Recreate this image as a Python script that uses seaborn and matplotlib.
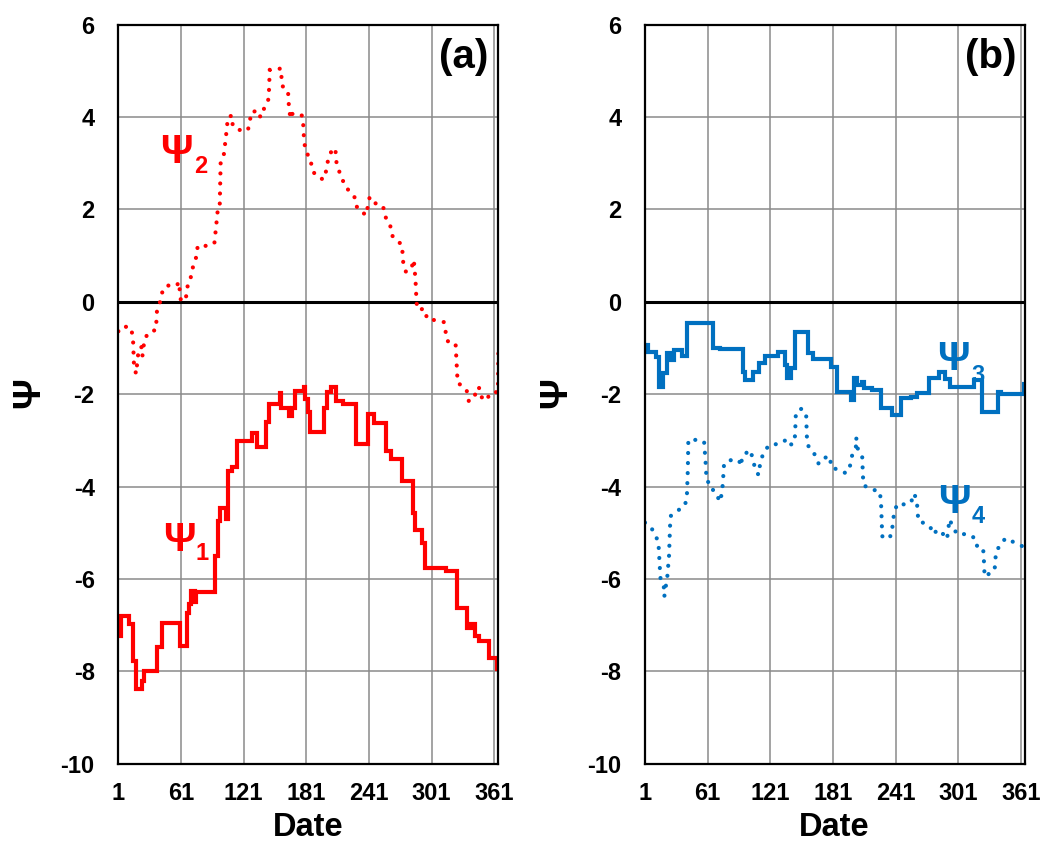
import numpy as np
import pandas as pd
import matplotlib
matplotlib.use("Agg")
import matplotlib.pyplot as plt
import seaborn as sns

# ---------------- data ----------------
# psi1 / psi3: step series (day the level starts, level)
psi1_day = [1, 4, 11, 15, 18, 24, 26, 38, 43, 60, 67, 69, 71, 74, 75, 94, 96, 98, 104, 106,
            110, 115, 129, 134, 142, 145, 156, 157, 164, 167, 170, 179, 180, 183, 185, 198,
            201, 205, 209, 216, 229, 240, 246, 257, 262, 273, 283, 285, 292, 295, 315, 325,
            335, 339, 343, 346, 356, 364, 365]
psi1_val = [-7.24, -6.81, -6.98, -7.78, -8.38, -8.2, -8.0, -7.48, -6.95, -7.46, -6.74, -6.55,
            -6.27, -6.5, -6.29, -5.5, -4.75, -4.46, -4.7, -3.66, -3.57, -3.01, -2.85, -3.15,
            -2.6, -2.21, -1.98, -2.29, -2.47, -2.29, -1.94, -1.85, -2.1, -2.39, -2.83, -2.29,
            -1.96, -1.85, -2.14, -2.21, -3.08, -2.43, -2.63, -3.23, -3.41, -3.88, -4.57, -4.93,
            -5.22, -5.76, -5.83, -6.63, -7.06, -6.98, -7.24, -7.35, -7.71, -7.96, -7.96]

psi3_day = [1, 4, 12, 14, 18, 22, 25, 29, 36, 41, 66, 73, 95, 97, 104, 110, 116, 128, 135, 137,
            141, 145, 157, 162, 179, 185, 198, 201, 204, 209, 211, 218, 227, 238, 246, 256,
            262, 273, 283, 288, 293, 316, 324, 339, 342, 364, 365]
psi3_val = [-0.94, -1.08, -1.19, -1.84, -1.55, -1.12, -1.26, -1.05, -1.18, -0.47, -1.01, -1.03,
            -1.51, -1.69, -1.51, -1.33, -1.17, -1.08, -1.37, -1.66, -1.44, -0.65, -1.12, -1.23,
            -1.41, -1.95, -2.13, -1.66, -1.80, -1.73, -1.87, -1.91, -2.31, -2.45, -2.09, -2.06,
            -1.97, -1.66, -1.51, -1.68, -1.84, -1.69, -2.38, -1.95, -2.0, -1.78, -1.78]

# psi2 / psi4: dotted series (vertices)
psi2_day = [1, 5, 13, 15, 16, 18, 19, 20, 23, 24, 26, 30, 37, 38, 41, 43, 47, 57, 59, 60, 61,
            66, 67, 70, 71, 74, 76, 77, 87, 93, 94, 95, 96, 98, 99, 102, 104, 105, 106, 110,
            110.5, 116, 125, 127, 128, 135, 137, 139, 141, 145, 146, 149, 157, 157.5, 163.5,
            164.5, 166, 168, 177, 178, 179, 181, 185.5, 186, 190, 196, 199, 200, 202, 205.6,
            208.8, 210, 212.6, 218.4, 223, 228, 229.6, 234.4, 239, 240, 241.7, 245.5, 251, 256,
            257.5, 261.5, 263, 267, 272.6, 274, 276.6, 282, 284, 285.6, 286.5, 287.2, 294.5,
            296.8, 305.4, 312.7, 314.4, 316, 324, 326, 332, 335.8, 336.7, 342.5, 346.3, 348,
            353.7, 356.9, 364.6, 365]
psi2_val = [-0.64, -0.53, -0.56, -0.77, -1.40, -1.56, -1.34, -1.13, -0.97, -1.18, -0.82, -0.66,
            -0.61, -0.19, 0.0, 0.20, 0.35, 0.35, 0.43, 0.20, 0.0, 0.12, 0.32, 0.44, 0.67, 0.83,
            1.01, 1.21, 1.21, 1.27, 1.49, 1.71, 1.94, 1.97, 3.03, 3.18, 3.56, 3.78, 4.00, 4.03,
            3.81, 3.72, 3.71, 3.89, 4.10, 4.14, 4.00, 4.03, 4.23, 4.39, 5.02, 5.02, 5.05, 4.68,
            4.57, 4.17, 3.96, 4.08, 4.03, 3.87, 3.45, 3.23, 3.08, 2.89, 2.73, 2.66, 2.67, 2.85,
            3.08, 3.29, 3.32, 3.00, 2.82, 2.49, 2.38, 2.24, 2.04, 1.93, 1.88, 2.11, 2.26, 2.13,
            2.13, 2.00, 1.78, 1.64, 1.44, 1.33, 1.24, 0.81, 0.64, 0.75, 0.91, 0.48, 0.05, -0.16,
            -0.16, -0.38, -0.40, -0.44, -0.64, -0.85, -0.90, -1.76, -1.84, -1.97, -2.16, -2.02,
            -1.84, -2.05, -2.14, -1.98, -1.95, -1.05]

psi4_day = [1, 6.8, 10.6, 13.8, 15.4, 16, 19.2, 19.5, 21, 22.4, 24, 25, 25.5, 31.4, 38.4, 41,
            42, 42.5, 49.9, 57.6, 59, 60, 64.9, 66.5, 69, 72.9, 74.5, 75.5, 76.7, 81.5, 91, 93,
            94, 97.5, 102, 104, 106.5, 109.7, 111, 112.9, 116, 120.8, 129.8, 136.8, 140, 144.2,
            144.8, 145.5, 151.2, 155.4, 156, 156.6, 162.4, 165, 167.2, 170.4, 178.4, 179, 184.8,
            193.4, 196.9, 199, 203, 203.3, 204.6, 209, 209.7, 210.3, 217.4, 225.6, 227, 228,
            228.5, 236.6, 238, 239, 240.7, 244.8, 250.3, 256, 258.9, 261.5, 262, 263, 269.5,
            274.3, 276.5, 282.2, 285.5, 290.3, 291.5, 292.7, 296, 299.9, 309.5, 315.3, 317.4,
            324.8, 325.5, 326.3, 335.9, 336.5, 337.5, 341.4, 346.2, 354.8, 362.2, 365]
psi4_val = [-4.78, -4.88, -5.05, -5.19, -5.84, -6.04, -6.19, -6.38, -6.15, -5.94, -5.50, -4.85,
            -4.64, -4.53, -4.44, -4.28, -3.64, -2.99, -2.99, -3.03, -3.46, -3.88, -3.95, -4.11,
            -4.15, -4.33, -4.15, -3.95, -3.51, -3.43, -3.43, -3.56, -3.35, -3.28, -3.21, -3.39,
            -3.61, -3.75, -3.55, -3.37, -3.21, -3.09, -3.08, -2.98, -3.10, -3.05, -2.84, -2.40,
            -2.31, -2.47, -2.90, -3.10, -3.25, -3.39, -3.50, -3.39, -3.35, -3.57, -3.63, -3.71,
            -3.61, -3.35, -3.14, -2.94, -3.17, -3.33, -3.75, -3.97, -4.06, -4.10, -4.29, -4.93,
            -5.12, -5.07, -4.87, -4.67, -4.47, -4.35, -4.40, -4.33, -4.15, -4.33, -4.55, -4.75,
            -4.80, -4.87, -5.03, -4.93, -5.00, -5.14, -4.92, -4.71, -4.88, -5.03, -5.03, -5.09,
            -5.27, -5.32, -5.54, -5.95, -5.81, -5.59, -5.39, -5.27, -5.12, -5.21, -5.29, -5.12]

x_ticks = [1, 61, 121, 181, 241, 301, 361]
y_ticks = [-10, -8, -6, -4, -2, 0, 2, 4, 6]

RED = "#FF0000"
BLUE = "#0070C0"

# ---------------- style ----------------
sns.set_theme(style="white")
plt.rcParams["font.family"] = ["Liberation Sans", "DejaVu Sans"]
plt.rcParams["font.weight"] = "bold"
plt.rcParams["text.color"] = "black"
plt.rcParams["axes.labelcolor"] = "black"
plt.rcParams["xtick.color"] = "black"
plt.rcParams["ytick.color"] = "black"
plt.rcParams["lines.dash_capstyle"] = "round"

fig = plt.figure(figsize=(10.4, 8.44), dpi=100)
ax_a = fig.add_axes([0.1138, 0.0951, 0.3654, 0.8758])
ax_b = fig.add_axes([0.6202, 0.0951, 0.3654, 0.8758])

DOT_LW = 3.0
SOLID_LW = 3.0


def draw_series(ax, day, val, color, dotted=False):
    df = pd.DataFrame({"Date": day, "psi": val})
    if dotted:
        sns.lineplot(data=df, x="Date", y="psi", ax=ax, color=color, sort=False,
                     estimator=None, linewidth=DOT_LW)
        line = ax.lines[-1]
        line.set_linestyle((0, (0.01, 2.4)))
        line.set_dash_capstyle("round")
    else:
        sns.lineplot(data=df, x="Date", y="psi", ax=ax, color=color, sort=False,
                     estimator=None, drawstyle="steps-post", linewidth=SOLID_LW)
        ax.lines[-1].set_solid_joinstyle("miter")


def style_axes(ax, panel):
    ax.set_xlim(1, 365)
    ax.set_ylim(-10, 6)
    ax.set_xticks(x_ticks)
    ax.set_yticks(y_ticks)
    ax.set_xticklabels([str(t) for t in x_ticks], fontsize=17, fontweight="bold")
    ax.set_yticklabels([str(t) for t in y_ticks], fontsize=17, fontweight="bold")
    ax.tick_params(axis="x", length=0, pad=13.5, colors="black")
    ax.tick_params(axis="y", length=0, pad=17, colors="black")
    ax.grid(True, color="#8a8a8a", linewidth=1.1)
    ax.set_axisbelow(True)
    for s in ax.spines.values():
        s.set_color("black")
        s.set_linewidth(1.6)
        s.set_visible(True)
    ax.axhline(0, color="black", linewidth=2.2, zorder=1.5)
    ax.set_xlabel("Date", fontsize=23.5, fontweight="bold")
    ax.xaxis.set_label_coords(0.499, -0.065)
    ax.set_ylabel("Ψ", fontsize=27.5, fontweight="bold")
    ax.yaxis.label.set_va("center")
    ax.yaxis.set_label_coords(-0.234, 0.502)
    ax.text(0.91, 0.956, panel, transform=ax.transAxes, ha="center", va="center",
            fontsize=29, fontweight="bold", color="black")


def psi_label(ax, x, y, sub, sx, sy, color):
    ax.text(x, y, "Ψ", color=color, fontsize=29, fontweight="bold",
            ha="left", va="baseline", zorder=5)
    ax.text(sx, sy, sub, color=color, fontsize=17, fontweight="bold",
            ha="left", va="baseline", zorder=5)


draw_series(ax_a, psi1_day, psi1_val, RED)
draw_series(ax_a, psi2_day, psi2_val, RED, dotted=True)
draw_series(ax_b, psi3_day, psi3_val, BLUE)
draw_series(ax_b, psi4_day, psi4_val, BLUE, dotted=True)

style_axes(ax_a, "(a)")
style_axes(ax_b, "(b)")

psi_label(ax_a, 41, 3.0, "2", 74, 2.78, RED)
psi_label(ax_a, 43.5, -5.40, "1", 74.5, -5.59, RED)
psi_label(ax_b, 281, -1.48, "3", 314, -1.74, BLUE)
psi_label(ax_b, 282, -4.57, "4", 313.5, -4.79, BLUE)

fig.savefig("out.png", dpi=100, facecolor="white")
